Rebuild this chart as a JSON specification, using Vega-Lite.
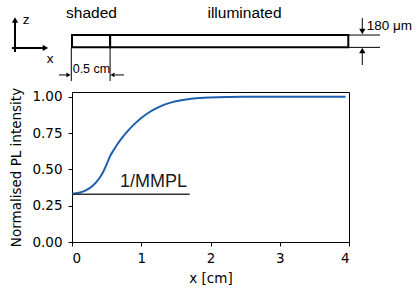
{
  "$schema": "https://vega.github.io/schema/vega-lite/v6.json",
  "autosize": {"type": "none"},
  "padding": {"left": 72, "top": 92, "right": 69, "bottom": 50},
  "width": 277,
  "height": 150,
  "config": {
    "view": {"stroke": "black", "strokeWidth": 1},
    "axis": {
      "labelFont": "DejaVu Sans", "titleFont": "DejaVu Sans",
      "labelFontSize": 13.5, "titleFontSize": 13.5, "titleFontWeight": "normal",
      "labelColor": "black", "titleColor": "black",
      "domainColor": "black", "tickColor": "black", "tickSize": 4, "grid": false
    }
  },
  "encoding": {
    "x": {"field": "x", "type": "quantitative",
      "scale": {"domain": [0, 4], "nice": false, "zero": false},
      "axis": {"title": "x [cm]", "values": [0, 1, 2, 3, 4], "format": "d", "labelPadding": 5, "titlePadding": 7}},
    "y": {"field": "y", "type": "quantitative",
      "scale": {"domain": [0, 1.0335], "nice": false, "zero": false},
      "axis": {"title": "Normalised PL intensity", "values": [0, 0.25, 0.5, 0.75, 1], "format": ".2f", "labelPadding": 6, "titlePadding": 8}}
  },
  "layer": [
    {
      "data": {"values": [
        {"x": 0.00, "y": 0.333}, {"x": 0.10, "y": 0.340}, {"x": 0.20, "y": 0.356},
        {"x": 0.30, "y": 0.388}, {"x": 0.40, "y": 0.443}, {"x": 0.45, "y": 0.482},
        {"x": 0.50, "y": 0.535}, {"x": 0.55, "y": 0.592}, {"x": 0.60, "y": 0.632},
        {"x": 0.65, "y": 0.670}, {"x": 0.70, "y": 0.703}, {"x": 0.80, "y": 0.762},
        {"x": 0.90, "y": 0.812}, {"x": 1.00, "y": 0.855}, {"x": 1.10, "y": 0.889},
        {"x": 1.20, "y": 0.917}, {"x": 1.30, "y": 0.940}, {"x": 1.40, "y": 0.957},
        {"x": 1.50, "y": 0.970}, {"x": 1.60, "y": 0.979}, {"x": 1.70, "y": 0.986},
        {"x": 1.80, "y": 0.991}, {"x": 2.00, "y": 0.996}, {"x": 2.25, "y": 0.999},
        {"x": 2.50, "y": 1.000}, {"x": 3.00, "y": 1.000}, {"x": 3.95, "y": 1.000}
      ]},
      "mark": {"type": "line", "color": "#1c5fb0", "strokeWidth": 2, "interpolate": "monotone", "clip": false}
    },
    {
      "data": {"values": [{"x": 0, "x2": 1.7, "y": 0.329, "y2": 0.329}]},
      "mark": {"type": "rule", "color": "#333333", "strokeWidth": 1.5, "clip": false},
      "encoding": {"x2": {"field": "x2"}, "y2": {"field": "y2"}}
    },
    {
      "data": {"values": [{"x": 0.0, "x2": 0.55, "y": 1.342, "y2": 1.426}, {"x": 0.55, "x2": 3.99, "y": 1.342, "y2": 1.426}]},
      "mark": {"type": "rect", "fill": null, "fillOpacity": 0, "stroke": "black", "strokeWidth": 2, "clip": false},
      "encoding": {"x2": {"field": "x2"}, "y2": {"field": "y2"}}
    },
    {
      "data": {"values": [
        {"x": -0.823, "x2": -0.823, "y": 1.309, "y2": 1.52},
        {"x": -0.866, "x2": -0.404, "y": 1.337, "y2": 1.337}
      ]},
      "mark": {"type": "rule", "color": "black", "strokeWidth": 2, "clip": false},
      "encoding": {"x2": {"field": "x2"}, "y2": {"field": "y2"}}
    },
    {
      "data": {"values": [
        {"x": 3.99, "x2": 4.448, "y": 1.426, "y2": 1.426},
        {"x": 3.99, "x2": 4.448, "y": 1.341, "y2": 1.341},
        {"x": 4.192, "x2": 4.192, "y": 1.543, "y2": 1.461},
        {"x": 4.192, "x2": 4.192, "y": 1.219, "y2": 1.309},
        {"x": -0.01, "x2": -0.01, "y": 1.341, "y2": 1.109},
        {"x": 0.55, "x2": 0.55, "y": 1.341, "y2": 1.109},
        {"x": -0.188, "x2": -0.072, "y": 1.151, "y2": 1.151},
        {"x": 0.751, "x2": 0.621, "y": 1.151, "y2": 1.151}
      ]},
      "mark": {"type": "rule", "color": "black", "strokeWidth": 1, "clip": false},
      "encoding": {"x2": {"field": "x2"}, "y2": {"field": "y2"}}
    },
    {
      "data": {"values": [
        {"x": -0.823, "y": 1.530, "dir": "up"},
        {"x": -0.383, "y": 1.337, "dir": "right"},
        {"x": 4.192, "y": 1.450, "dir": "down"},
        {"x": 4.192, "y": 1.319, "dir": "up"}
      ]},
      "mark": {"type": "point", "filled": true, "color": "black", "opacity": 1, "size": 40, "clip": false},
      "encoding": {"shape": {"field": "dir", "type": "nominal", "legend": null,
        "scale": {"domain": ["up", "down", "left", "right"], "range": ["triangle-up", "triangle-down", "triangle-left", "triangle-right"]}}}
    },
    {
      "data": {"values": [
        {"x": -0.051, "y": 1.151, "dir": "right"},
        {"x": 0.585, "y": 1.151, "dir": "left"}
      ]},
      "mark": {"type": "point", "filled": true, "color": "black", "opacity": 1, "size": 22, "clip": false},
      "encoding": {"shape": {"field": "dir", "type": "nominal", "legend": null,
        "scale": {"domain": ["up", "down", "left", "right"], "range": ["triangle-up", "triangle-down", "triangle-left", "triangle-right"]}}}
    },
    {
      "data": {"values": [
        {"x": 0.282, "y": 1.543, "label": "shaded"},
        {"x": 2.491, "y": 1.543, "label": "illuminated"}
      ]},
      "mark": {"type": "text", "font": "Liberation Sans", "fontSize": 15.5, "align": "center", "baseline": "alphabetic", "color": "black", "clip": false},
      "encoding": {"text": {"field": "label"}}
    },
    {
      "data": {"values": [
        {"x": 4.255, "y": 1.461, "label": "180 μm"},
        {"x": -0.712, "y": 1.502, "label": "z"},
        {"x": -0.365, "y": 1.231, "label": "x"}
      ]},
      "mark": {"type": "text", "font": "Liberation Sans", "fontSize": 13.5, "align": "left", "baseline": "alphabetic", "color": "black", "clip": false},
      "encoding": {"text": {"field": "label"}}
    },
    {
      "data": {"values": [{"x": 0.01, "y": 1.161, "label": "0.5 cm"}]},
      "mark": {"type": "text", "font": "Liberation Sans", "fontSize": 12.5, "align": "left", "baseline": "alphabetic", "color": "black", "clip": false},
      "encoding": {"text": {"field": "label"}}
    },
    {
      "data": {"values": [{"x": 0.693, "y": 0.377, "label": "1/MMPL"}]},
      "mark": {"type": "text", "font": "Liberation Sans", "fontSize": 18, "align": "left", "baseline": "alphabetic", "color": "#1a1a1a", "clip": false},
      "encoding": {"text": {"field": "label"}}
    }
  ]
}
